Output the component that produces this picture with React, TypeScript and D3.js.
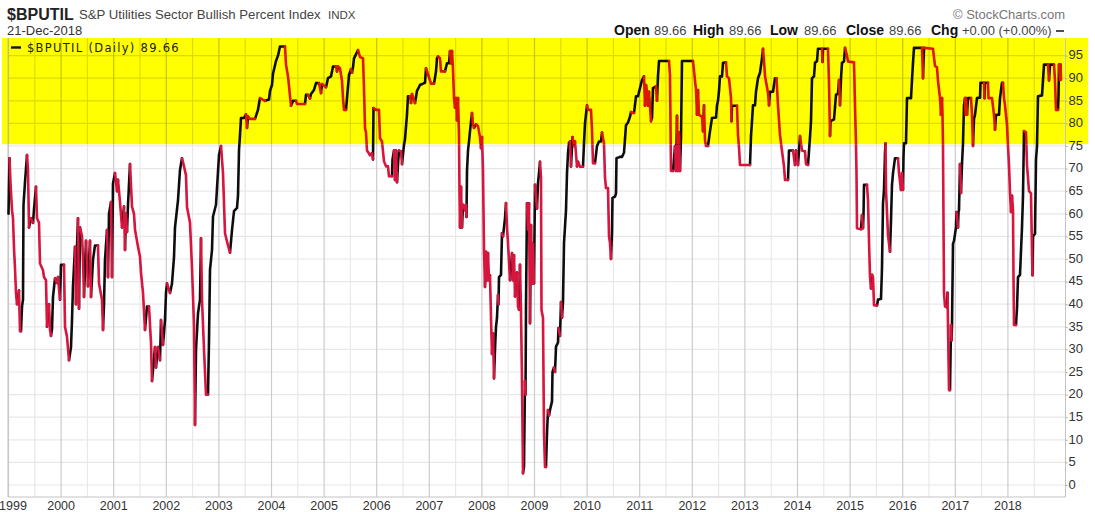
import React, { useEffect, useRef } from "react";
import * as d3 from "d3";

type Pt = [number, number];

// [chart week since the start of the axis, bullish percent]
const era1999: Pt[] = [[0.5,60],[1.5,72.3],[2.5,66.8],[4,60.8],[5,59],[6,52.4],[7,48],[8,42.5],[9,40],[11,43],[12,34],[13,34],[14,39.5],[15,41],[15.5,62],[17,67],[19,73],[20,69.7],[21,57],[23,59],[25,58],[26,61],[28,66],[29,59],[31,58],[32,49],[35,47.5],[36,46],[38,45.3],[39,35],[41,40],[42,34.3],[43,33],[44,34.5],[45,41.6],[47,45.7],[49,44.7],[50,46],[52,41],[53,48.7],[56,48.7],[57,35],[59,32.8],[61,27.6],[63,30.5],[64,36.5],[65,44],[67,52.7],[68,40],[69,52.7],[70,59],[71,39],[72,57],[74,55],[75,50],[76,41.6],[78,54],[80,44],[82,54],[83,41.6],[85,49.8],[87,53],[90,53],[91,44.6],[94,41],[95,34.3],[96,40],[97,49.8],[99,56.4],[100,46],[101,60],[103,62.6],[104,46]];
const era2001: Pt[] = [[105,66.7],[107,69],[109,65],[110,67.5],[112,62.6],[114,57],[116,61.6],[117,52],[118,60],[119,56],[120,62],[122,71],[124,61.6],[126,60],[127,56.5],[130,52.7],[132,50.5],[133,47],[135,42.5],[137,34.3],[139,39.5],[141,39.5],[143,31.4],[144,23],[147,30.5],[148,26],[150,30.5],[152,27.6],[153,36.5],[155,31],[157,36.5],[158,42.5],[159,44.6],[162,42.5],[164,44.6],[166,50.4],[167,57],[170,63],[172,69.7],[174,72.3],[176,70.5],[178,68.5],[179,61.5],[182,58],[184,48],[186,35.4],[187,13.3],[188,30],[190,38],[192,41],[193,54.6],[194,41],[196,30],[198,20],[200,20],[201,32],[202,47.6],[204,52],[205,59.4],[208,62],[211,73],[213,75],[215,69],[217,55.7],[220,53],[222,51.4],[224,56.4],[226,60.6],[229,61.3],[230,64],[231,74],[232,77.4],[233,81.2]];
const era2004: Pt[] = [[236,81.2],[238,82],[239,79],[240,81.5],[242,81],[247,81],[250,83],[252,85.6],[257,85],[261,85.3],[262,87.2],[264,88.5],[265,91],[268,93.8],[270,95],[272,97],[277,97],[278,93],[280,90.4],[281,88.3],[283,83.9],[285,85],[288,85],[289,84.3],[297,84.3],[298,86.3],[300,86.3],[302,85.5],[303,86.5],[306,87.4],[308,88.9],[311,88.9],[313,86.7],[314,88.7],[318,88],[320,90],[323,90.4],[325,92.6],[328,92.6],[329,91.5],[330,92.6],[332,92.2],[334,89.4],[335,85.6],[336,83],[338,83],[339,85.6],[341,90.7],[343,92],[344,91.2],[345,92.4],[346,94.4],[350,96.2],[352,94.7],[355,94.4],[356,87.8],[357,79],[358,78],[359,74],[362,73],[364,73.4],[365,72]];
const era2006: Pt[] = [[365.5,83.4],[368,83],[371,83],[372,76.7],[374,76],[376,71.6],[378,70.5],[380,70.5],[381,68.3],[384,68.3],[384.5,72],[386,74],[387,67.5],[388,74],[389,67],[390,71],[391,74],[393,73.8],[394,71],[396,75.3],[397,76.5],[399,82],[400,86],[402,86],[403,84.5],[404,86.5],[407,84.5],[409,87.2],[412,88.5],[415,88.8],[417,89],[418,92.2],[423,88.8],[426,88.8],[428,91.5],[429,94.4],[430,94.8],[432,94.4],[433,91.5],[437,91.5],[439,93.3],[441,93.3],[442,96],[443,93.3],[444,96],[445,92],[446,85.6],[447,83.5],[448,85.6],[449,80.7],[450,85.6],[451,77.4],[451.5,64.6],[452,57],[453,66],[454,57],[455,62],[457,60.8],[458,62],[458.5,59.3],[459,69.5],[460,74],[461,76],[462,78.3],[464,82.3],[465,79.8],[466,79],[468,79.8],[470,79.4],[472,77],[473,74.5],[474,77],[475,69.5]];
const era2008: Pt[] = [[476,52],[477,43.8],[478,51.6],[479,45.3],[480,51.3],[481,45.3],[482,46.4],[483,37],[484,29],[485,33.5],[486,23.6],[487,30],[488,35],[489,37],[490,42],[490.5,40],[491,46],[493,46.5],[494,55.7],[495,55],[496,57],[497,59],[498,62.4],[499,57],[500,53.5],[502,45.3],[504,51.3],[505,45.3],[506,50.8],[507,41.7],[509,47],[510,39.5],[511,38.8],[512,48.7],[513,38.4],[514,23],[515,2.6],[516,4],[517,23],[517.5,20],[518,39.5],[519,62.3],[520,56.5],[521,62.3],[522,35.8],[523,57.5],[524,44.6],[525,53.4],[526,44.6],[527,66.4],[529,61.2],[530,66.8],[531,69],[532,71.5],[533,68],[533.5,38.7],[535,37],[536,11.5],[537,4],[538,4],[539,11.5],[540,16.6],[541,15.4],[542,16.6],[544,18.5],[544.5,25],[546,26],[547,25],[548,30.6],[550,31.5],[550.5,34.7],[552,33],[553,40.5],[554,37],[555,40.5],[556,53.5],[558,60.8],[559,69],[560,73.4],[561,75.7],[562,76],[563,70.5],[564.5,77],[566,75],[567,76],[569,70.5],[570,71.5],[572,70.4],[575,70.4],[576,75.7],[577,80],[579,84],[580,83],[583,83],[584,78.5],[585,71.2],[587,71.2],[589,75],[591,76],[593,76],[594,78],[596,75.5],[597,68],[598,65.7],[600,65.7],[601,55],[602,53.5],[603,50],[604,56],[604.5,63.5],[607,63.8],[608,64.5],[608.5,72.3],[612,72.6],[614,72.6],[616,73.5],[618,79.6],[620,80.2],[622,81.5],[623,82.5],[625,82.3]];
const era2011: Pt[] = [[626,82.3],[628,86],[630,86],[632,87.8],[634,89.6],[636,90.4],[637,83.9],[638,88.5],[639,87],[640,83.9],[641,87],[643,80.5],[644,81.2],[645,87.8],[648,88.2],[649,85],[650,90.4],[651,93.8],[661,93.8],[662,90.6],[663,69.5],[665,69.5],[667,75],[668,69.5],[669,81.7],[670,69.5],[671,78],[672,69.5],[673,77],[674,93.8],[685,93.8],[686,91.6],[688,87.4],[689,81.9],[690,87.4],[691,81.9],[694,81.5],[695,78.3],[696,84],[697,76.3],[698,75],[700,75],[702,78.3],[704,81.2],[708,81.3],[709,84],[710,85],[711,87.2],[712,90.4],[714,90.4],[715,93.4],[718,93.5],[719,90.4],[721,90],[723,85.6],[723.5,80.5],[724,83.9],[729,83.9],[730,77.4],[731,74.7],[732,70.8],[742,70.8],[743,77.2],[744,80.5],[745,84],[747,84],[748,87],[750,90],[752,91.2],[754,94.4],[755,96.5],[756,93.8],[757,90.5],[760,86.8],[761,84],[762,87],[765,87],[767,90],[768.5,90],[770,84],[772,77.4],[774,73.9],[776,70.5],[777,67.5],[780,67.5],[781,74],[785,74],[787,70.8],[788,74],[790,70.8],[792,77.2],[794,74],[797,73.8],[798,71],[800,70.8],[802,77],[803,80.5],[804,90],[806,90.4],[807,93.4],[809,93.8],[810,96.5],[814,96.5],[814.5,93.6],[815,96.5],[820,96.5],[821,89],[822,77.2],[822.5,80.5],[826,80.9],[828,86.3],[830,86.6],[831,89.6],[832,84],[833,90],[834,93.4],[836,93.7],[837,96.7],[839,95],[840,93.7],[846,93.5],[847,84],[848,75.3]];
const era2015: Pt[] = [[848.5,69],[849,56.8],[853,56.6],[854,59.7],[855,56.8],[855.5,59.7],[856,66.4],[859,66.4],[860,63],[861,54],[862,46],[863,43.5],[864,46.5],[865,46],[866,39.8],[869,39.7],[870,41],[873,41.2],[874,48],[875,62.3],[876,65.3],[877,73.5],[877.5,75.6],[878,65.3],[880,55.3],[882,51.6],[883,58.6],[884,66.4],[885,69],[887,72.3],[890,72.3],[891,69],[893,65.3],[894,69],[895,65.3],[895.5,72.6],[896,75.6],[898,75.6],[899,85.6],[903,85.6],[904,89.6],[905,93.4],[906,96.7],[914,96.7],[915,90],[916,96.7],[925,96.5],[927,92.7],[929,92.4],[930,89.4],[931,87.5],[932,85.6],[933,81.9],[934,85.6],[934.5,81.9],[935,75],[936,42.5],[937,39.5],[939,39.3],[939.5,42.5],[940,35.4],[941,21],[942,21],[943,35.4],[943.5,32],[944,35.4],[945,53.4],[946,54],[948,57],[948.5,60.4],[950,57],[950.5,60.4],[951,60.8],[952,71],[953,64.6],[954,71],[955,75.6],[956,84],[957,85.6],[957.5,81.9],[958,85.6],[959,81.9],[960,85.6],[963,85.6],[964,81.9],[965,75],[966,81],[967,81.9],[969,85.6],[972,85.7],[972.5,89],[976,89],[976.5,85.6],[977,89],[980,89],[980.5,85.6],[984,85.6],[986,81.9],[987,78.6],[988,81.9],[991,81.9],[992,85.6],[994,89],[995,89],[996,85.6],[997,84],[999,79.7],[1000,75],[1001,70.8],[1002,64.6],[1003,60.4],[1004,64],[1005,60.8],[1005.5,46],[1006,35.4],[1008,35.4],[1009,39.2],[1010,46],[1012,46.5],[1014,57],[1015,64],[1016,78.3],[1018,78],[1019,70.8],[1021,65],[1023,64.5],[1024,51.6],[1024.5,46.4],[1025,55],[1027,55.6],[1028,72],[1029,75],[1030,86],[1034,86.2],[1035,89.5],[1036,93],[1040,93],[1041,89.5],[1042,93],[1046,93],[1047,89.5],[1048,83],[1050,83],[1050.5,86],[1051,93],[1052,89.6],[1052.5,93],[1053,89.66]];

const series: Pt[] = [...era1999, ...era2001, ...era2004, ...era2006, ...era2008, ...era2011, ...era2015];

const years = d3.range(1999, 2019);
const priceTicks = d3.range(0, 100, 5);
const quoteFields = [
  { label: "Open", value: "89.66", lx: 614, vx: 654 },
  { label: "High", value: "89.66", lx: 693, vx: 729 },
  { label: "Low", value: "89.66", lx: 770, vx: 804 },
  { label: "Close", value: "89.66", lx: 846, vx: 889 },
  { label: "Chg", value: "+0.00 (+0.00%)", lx: 931, vx: 962 },
];

const weeksPerYear = 52.6;
const yearToWeek = (y: number) => 0.5 + (y - 1999) * weeksPerYear;

const App: React.FC = () => {
  const svgRef = useRef<SVGSVGElement | null>(null);

  useEffect(() => {
    const svg = d3.select(svgRef.current);
    svg.selectAll("*").remove();

    const x = d3.scaleLinear().domain([0, 1057.5]).range([8, 1065.5]);
    const y = d3.scaleLinear().domain([0, 95]).range([485, 485 - 95 * 4.52]);

    const top = 38;
    const bottom = 497;
    const left = x(0);
    const right = x(1057.5);
    const bandEdge = y(75.4);

    const defs = svg.append("defs");
    defs.append("clipPath").attr("id", "inBand").append("rect").attr("x", 0).attr("y", top).attr("width", 1095).attr("height", bandEdge - top);
    defs.append("clipPath").attr("id", "belowBand").append("rect").attr("x", 0).attr("y", bandEdge).attr("width", 1095).attr("height", 512 - bandEdge);
    defs.append("filter").attr("id", "soft").attr("x", "-2%").attr("y", "-2%").attr("width", "104%").attr("height", "104%")
      .append("feGaussianBlur").attr("stdDeviation", 0.4);

    // overbought band
    svg.append("rect").attr("x", 2).attr("y", top).attr("width", 1086).attr("height", bandEdge - top).attr("fill", "#ffff00");

    // grid, darker over the band
    const drawGrid = (clip: string, minor: string, major: string) => {
      const grid = svg.append("g").attr("clip-path", `url(#${clip})`).attr("stroke-width", 1.2);
      priceTicks.forEach(t => {
        grid.append("line").attr("x1", left).attr("x2", right).attr("y1", y(t)).attr("y2", y(t)).attr("stroke", minor);
      });
      years.forEach(yr => {
        const xMajor = x(yearToWeek(yr));
        const xMinor = x(yearToWeek(yr + 0.5));
        grid.append("line").attr("x1", xMinor).attr("x2", xMinor).attr("y1", top).attr("y2", bottom).attr("stroke", minor);
        grid.append("line").attr("x1", xMajor).attr("x2", xMajor).attr("y1", top).attr("y2", bottom).attr("stroke", major);
      });
    };
    drawGrid("belowBand", "#e8e8e8", "#cccccc");
    drawGrid("inBand", "#dcdc00", "#c4c400");

    // frame
    const frame = svg.append("g").attr("stroke", "#c4c4c4").attr("stroke-width", 1);
    frame.append("line").attr("x1", left).attr("x2", left).attr("y1", top).attr("y2", bottom);
    frame.append("line").attr("x1", right).attr("x2", right).attr("y1", top).attr("y2", bottom);
    frame.append("line").attr("x1", left).attr("x2", right).attr("y1", bottom).attr("y2", bottom);

    // line: black on up moves, crimson on down moves, crimson painted last
    const line = d3.line<Pt>().x(d => x(d[0])).y(d => y(d[1]));
    let upPath = "";
    let downPath = "";
    let rising = true;
    series.slice(1).forEach((p, i) => {
      const prev = series[i];
      if (p[1] !== prev[1]) rising = p[1] > prev[1];
      if (rising) upPath += line([prev, p]);
      else downPath += line([prev, p]);
    });
    const plot = svg.append("g").attr("fill", "none").attr("stroke-width", 2.6).attr("stroke-linecap", "round")
      .attr("stroke-linejoin", "round").attr("filter", "url(#soft)");
    plot.append("path").attr("d", upPath).attr("stroke", "#111111");
    plot.append("g").attr("clip-path", "url(#belowBand)").append("path").attr("d", downPath).attr("stroke", "#d8123c");
    plot.append("g").attr("clip-path", "url(#inBand)").append("path").attr("d", downPath).attr("stroke", "#e01400");

    // right axis
    const axis = svg.append("g").attr("transform", `translate(${right},0)`)
      .call(d3.axisRight(y).tickValues(priceTicks).tickSize(2).tickPadding(1));
    axis.select(".domain").remove();
    axis.selectAll("line").attr("stroke", "#aaa");
    axis.selectAll("text").attr("font-family", "'Liberation Sans', Arial, sans-serif").attr("font-size", 13).attr("fill", "#333").attr("dy", "0.25em");

    // year labels
    const labelFont = "'Liberation Sans', Arial, sans-serif";
    years.forEach(yr => {
      svg.append("text").attr("x", yr === 1999 ? 13 : x(yearToWeek(yr))).attr("y", 510)
        .attr("text-anchor", "middle").attr("font-family", labelFont).attr("font-size", 12.5).attr("fill", "#333").text(yr);
    });

    // header
    const put = (tx: number, ty: number, size: number, text: string, fill = "#222", weight = "normal", font = labelFont) =>
      svg.append("text").attr("x", tx).attr("y", ty).attr("font-size", size).attr("font-family", font).attr("font-weight", weight).attr("fill", fill).text(text);

    put(7, 20, 16, "$BPUTIL", "#222", "bold");
    put(79, 19, 13.2, "S&P Utilities Sector Bullish Percent Index", "#444");
    put(328, 19, 11.5, "INDX", "#444");
    put(7, 35, 13, "21-Dec-2018", "#333");
    put(953, 19, 13, "© StockCharts.com", "#777");
    quoteFields.forEach(f => {
      put(f.lx, 35, 14, f.label, "#111", "bold");
      put(f.vx, 35, 13, f.value, "#444");
    });
    svg.append("line").attr("x1", 1056).attr("x2", 1064).attr("y1", 31).attr("y2", 31).attr("stroke", "#222").attr("stroke-width", 1.6);

    // legend
    svg.append("line").attr("x1", 11).attr("x2", 21).attr("y1", 47.5).attr("y2", 47.5).attr("stroke", "#111").attr("stroke-width", 2.4);
    put(27, 51.5, 11.5, "$BPUTIL (Daily) 89.66", "#222", "normal", "'DejaVu Sans', Verdana, sans-serif").attr("letter-spacing", 1.3);
  }, []);

  return (
    <svg
      ref={svgRef}
      width={1095}
      height={512}
      style={{ position: "absolute", left: 0, top: 0, background: "#fff" }}
    ></svg>
  );
};

export default App;
